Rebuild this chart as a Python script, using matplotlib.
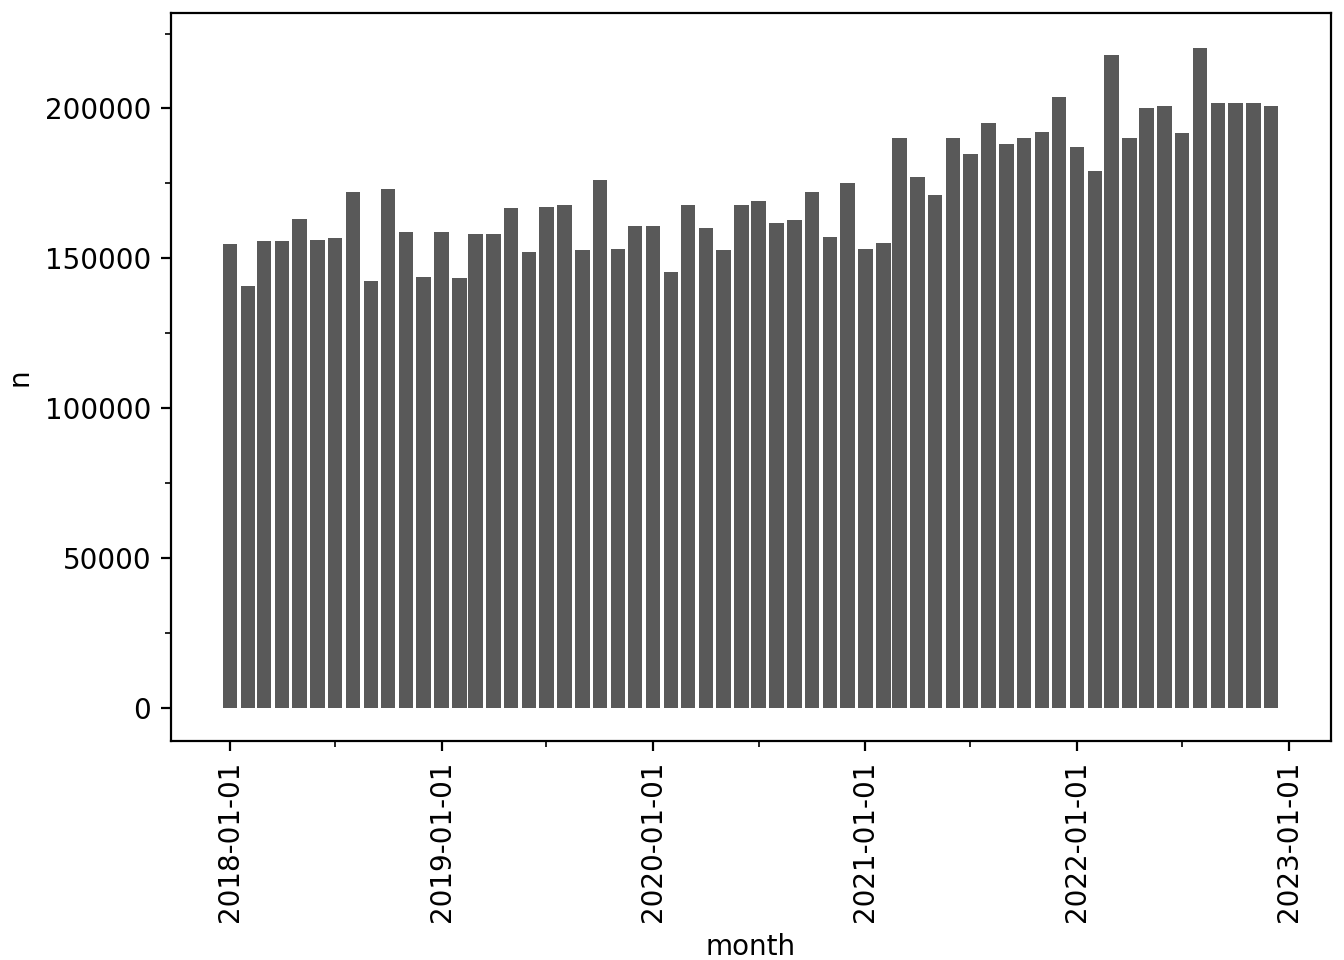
import matplotlib
matplotlib.use("Agg")
import matplotlib.pyplot as plt
import matplotlib.dates as mdates
import numpy as np
import pandas as pd
from matplotlib.ticker import MultipleLocator

# monthly counts 2018-01 .. 2022-12
months = pd.date_range("2018-01-01", "2022-12-01", freq="MS")
n = [154700, 140700, 155700, 155700, 163300, 156300, 156700, 172300, 142300, 173000, 158700, 143700,
     158700, 143300, 158300, 158300, 166700, 152000, 167300, 167700, 152700, 176000, 153000, 160700,
     160700, 145300, 167700, 160000, 152700, 167700, 169000, 161700, 162700, 172000, 157300, 175300,
     153000, 155000, 190300, 177000, 171300, 190300, 184700, 195300, 188000, 190300, 192300, 203700,
     187300, 179300, 218000, 190300, 200300, 200700, 191700, 220300, 201700, 201700, 201700, 200700]

fig, ax = plt.subplots(figsize=(6.72, 4.8), dpi=200)
ax.bar(months, n, width=25, color="#595959")
ax.xaxis.set_major_locator(mdates.YearLocator())
ax.xaxis.set_minor_locator(mdates.MonthLocator(bymonth=7))
ax.xaxis.set_major_formatter(mdates.DateFormatter("%Y-%m-%d"))
ax.yaxis.set_minor_locator(MultipleLocator(25000))
ax.set_xlim(pd.Timestamp("2017-09-21"), pd.Timestamp("2023-03-14"))
ax.set_ylim(-11000, 231700)
plt.setp(ax.get_xticklabels(), rotation=90)
ax.set_xlabel("month")
ax.set_ylabel("n")
fig.subplots_adjust(left=0.127, right=0.99, top=0.986, bottom=0.228)
fig.savefig("out.png")
